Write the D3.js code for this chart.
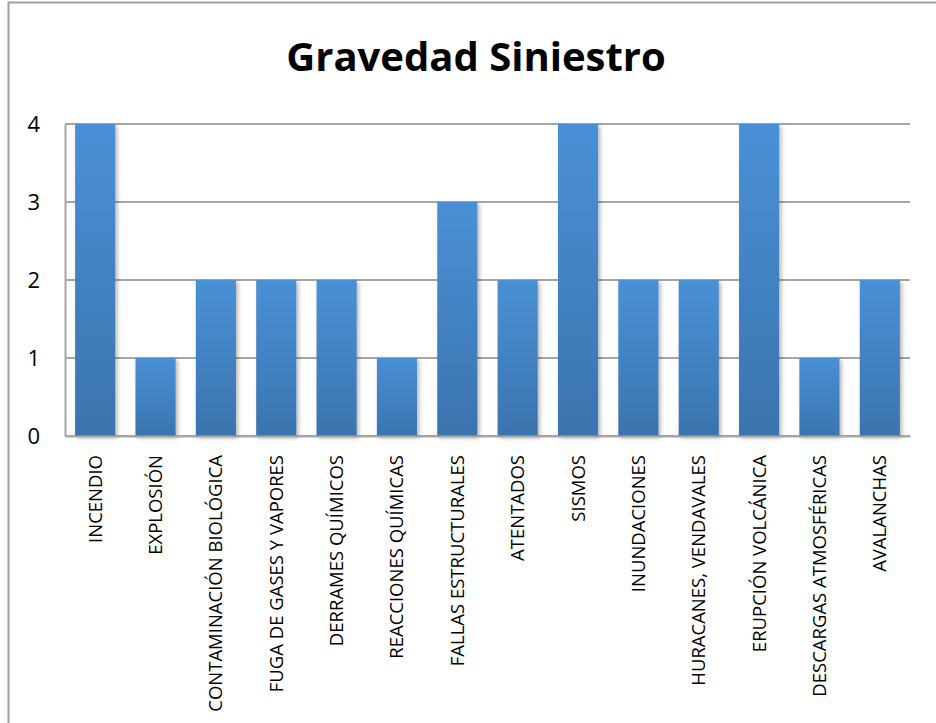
<!DOCTYPE html>
<html>
<head>
<meta charset="utf-8">
<script src="https://cdn.jsdelivr.net/npm/d3@7"></script>
<style>
  body { margin: 0; background: #fff; }
  text { font-family: "Open Sans", sans-serif; }
</style>
</head>
<body>
<div id="plot"></div>
<script>
// chart data
const categories = [
  "INCENDIO", "EXPLOSIÓN", "CONTAMINACIÓN BIOLÓGICA", "FUGA DE GASES Y VAPORES",
  "DERRAMES QUÍMICOS", "REACCIONES QUÍMICAS", "FALLAS ESTRUCTURALES", "ATENTADOS",
  "SISMOS", "INUNDACIONES", "HURACANES, VENDAVALES", "ERUPCIÓN VOLCÁNICA",
  "DESCARGAS ATMOSFÉRICAS", "AVALANCHAS"
];
const values = [4, 1, 2, 2, 2, 1, 3, 2, 4, 2, 2, 4, 1, 2];
const yTicks = [0, 1, 2, 3, 4];
const title = "Gravedad Siniestro";

const width = 936, height = 723;
const margin = { top: 124, right: 26, bottom: 287, left: 65 };
const innerW = width - margin.left - margin.right;
const innerH = height - margin.top - margin.bottom;

const svg = d3.select("#plot")
  .append("svg")
  .attr("width", width)
  .attr("height", height);

// gradient + shadow for bars
const defs = svg.append("defs");
const grad = defs.append("linearGradient")
  .attr("id", "barGrad")
  .attr("x1", 0).attr("y1", 0).attr("x2", 0).attr("y2", 1);
grad.append("stop").attr("offset", "0%").attr("stop-color", "#4a90d6");
grad.append("stop").attr("offset", "100%").attr("stop-color", "#3a74ae");

const shadow = defs.append("filter")
  .attr("id", "shadow")
  .attr("x", "-20%").attr("y", "-5%").attr("width", "150%").attr("height", "120%");
shadow.append("feDropShadow")
  .attr("dx", 2).attr("dy", 2).attr("stdDeviation", 2)
  .attr("flood-color", "#000").attr("flood-opacity", 0.3);

// outer chart frame
svg.append("rect")
  .attr("x", 8.5).attr("y", 2.5)
  .attr("width", 940).attr("height", 740)
  .attr("fill", "none")
  .attr("stroke", "#a0a0a0")
  .attr("stroke-width", 2);

svg.append("text")
  .attr("x", 476)
  .attr("y", 71)
  .attr("text-anchor", "middle")
  .style("font-size", "40px")
  .style("font-weight", "bold")
  .text(title);

const g = svg.append("g")
  .attr("transform", `translate(${margin.left},${margin.top})`);

const x = d3.scaleBand()
  .domain(categories)
  .range([0, innerW])
  .paddingInner(0.335)
  .paddingOuter(0.1675);

const y = d3.scaleLinear()
  .domain([0, 4])
  .range([innerH, 0]);

// gridlines
g.append("g")
  .selectAll("line")
  .data(yTicks)
  .join("line")
  .attr("x1", 0).attr("x2", innerW)
  .attr("y1", d => y(d)).attr("y2", d => y(d))
  .attr("stroke", "#a6a6a6")
  .attr("stroke-width", 2);

// bars
g.append("g")
  .selectAll("rect")
  .data(values)
  .join("rect")
  .attr("x", (d, i) => x(categories[i]))
  .attr("y", d => y(d))
  .attr("width", x.bandwidth())
  .attr("height", d => y(0) - y(d))
  .attr("fill", "url(#barGrad)")
  .attr("filter", "url(#shadow)");

// y axis
const yAxis = g.append("g")
  .call(d3.axisLeft(y).tickValues(yTicks).tickSize(0).tickPadding(25).tickFormat(d3.format("d")));
yAxis.select(".domain").attr("stroke", "#a6a6a6").attr("stroke-width", 2);
yAxis.selectAll("text")
  .style("font-family", "'Open Sans', sans-serif")
  .style("font-size", "22px")
  .attr("fill", "#000");

// x axis
const xAxis = g.append("g")
  .attr("transform", `translate(0,${innerH})`)
  .call(d3.axisBottom(x).tickSize(0).tickPadding(0));
xAxis.select(".domain").attr("stroke", "#a6a6a6").attr("stroke-width", 2);
xAxis.selectAll("text")
  .style("font-family", "'Open Sans', sans-serif")
  .style("font-size", "18.5px")
  .attr("fill", "#000")
  .attr("text-anchor", "end")
  .attr("dy", "0.35em")
  .attr("transform", "translate(0,19) rotate(-90)");
</script>
</body>
</html>
